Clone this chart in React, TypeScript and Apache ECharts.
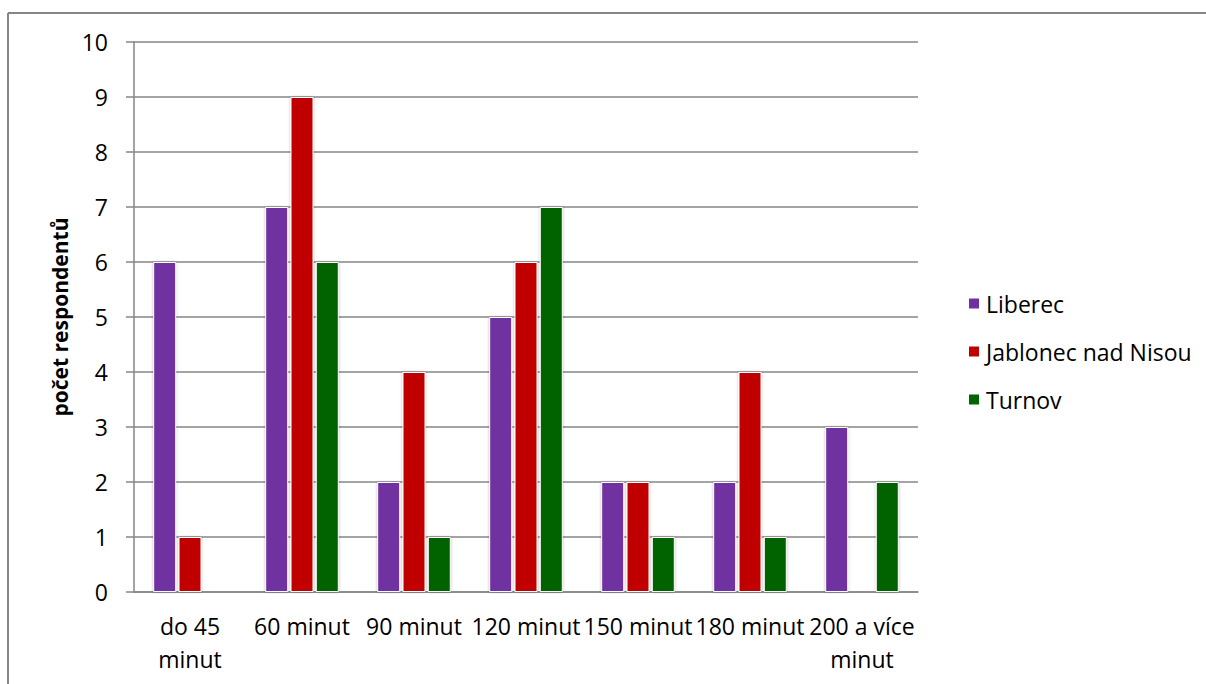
import React, { useEffect, useRef } from "react";
import * as echarts from "echarts";

const categories = ["do 45\nminut", "60 minut", "90 minut", "120 minut", "150 minut", "180 minut", "200 a více\nminut"];
const liberec = [6, 7, 2, 5, 2, 2, 3];
const jablonec = [1, 9, 4, 6, 2, 4, 0];
const turnov = [0, 6, 1, 7, 1, 1, 2];
const seriesNames = ["Liberec", "Jablonec nad Nisou", "Turnov"];
const colors = ["#7030A0", "#C00000", "#006400"];
const yAxisName = "počet respondentů";

const FONT = "'Open Sans', sans-serif";

export default function App() {
  const ref = useRef<HTMLDivElement>(null);
  useEffect(() => {
    if (!ref.current) return;
    const chart = echarts.init(ref.current, null, { renderer: "svg" });
    const mk = (name: string, data: number[], color: string) => ({
      name,
      type: "bar",
      data: data.map((v) => (v === 0 ? null : v)),
      barWidth: 23,
      barGap: "10%",
      itemStyle: {
        color,
        borderColor: "#ffffff",
        borderWidth: 1,
        shadowColor: "rgba(0,0,0,0.25)",
        shadowBlur: 3,
      },
    });
    chart.setOption({
      animation: false,
      backgroundColor: "#ffffff",
      textStyle: { fontFamily: FONT },
      graphic: [
        { type: "line", shape: { x1: 8, y1: 13, x2: 1206, y2: 13 }, style: { stroke: "#868686", lineWidth: 2 } },
        { type: "line", shape: { x1: 8, y1: 13, x2: 8, y2: 684 }, style: { stroke: "#868686", lineWidth: 2 } },
      ],
      grid: { left: 134, top: 42, right: 288, bottom: 92, containLabel: false },
      legend: {
        orient: "vertical",
        left: 962,
        top: 287,
        itemWidth: 12,
        itemHeight: 12,
        itemGap: 25,
        icon: "rect",
        textStyle: { fontFamily: FONT, fontSize: 23, color: "#000", padding: [0, 0, 0, 1] },
        data: seriesNames,
      },
      xAxis: {
        type: "category",
        data: categories,
        axisLine: { lineStyle: { color: "#868686", width: 1.5 } },
        axisTick: { show: false },
        axisLabel: {
          interval: 0,
          color: "#000",
          fontFamily: FONT,
          fontSize: 23,
          lineHeight: 33,
          margin: 17,
        },
      },
      yAxis: {
        type: "value",
        min: 0,
        max: 10,
        interval: 1,
        name: yAxisName,
        nameLocation: "middle",
        nameRotate: 90,
        nameGap: 62,
        nameTextStyle: { fontFamily: FONT, fontSize: 21, fontWeight: "bold", color: "#000" },
        axisLine: { show: true, lineStyle: { color: "#868686", width: 1.5 } },
        axisTick: { show: true, length: 8, lineStyle: { color: "#868686", width: 1.5 } },
        splitLine: { lineStyle: { color: "#868686", width: 1.5 } },
        axisLabel: { color: "#000", fontFamily: FONT, fontSize: 23, margin: 26 },
      },
      series: [mk(seriesNames[0], liberec, colors[0]), mk(seriesNames[1], jablonec, colors[1]), mk(seriesNames[2], turnov, colors[2])],
    });
    return () => chart.dispose();
  }, []);
  return <div ref={ref} style={{ position: "fixed", left: 0, top: 0, width: 1206, height: 684 }} />;
}
